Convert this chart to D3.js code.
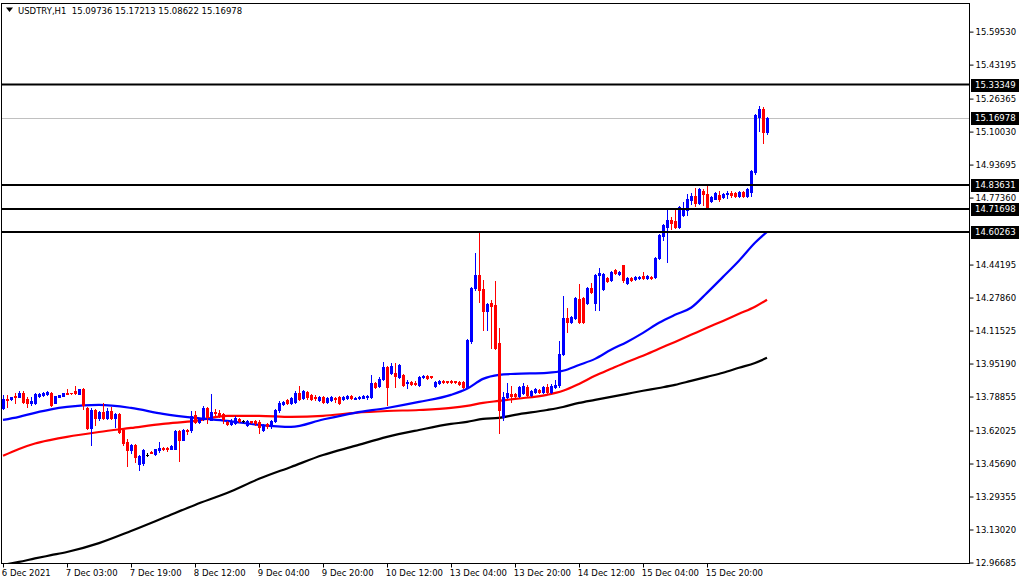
<!DOCTYPE html>
<html><head><meta charset="utf-8">
<script src="https://cdn.jsdelivr.net/npm/d3@7"></script>
<style>
html,body{margin:0;padding:0;background:#fff;}
svg{display:block;}
text{font-family:"DejaVu Sans",sans-serif;}
</style></head><body>
<svg id="c" width="1020" height="584"></svg>
<script>
const titleText = "USDTRY,H1  15.09736 15.17213 15.08622 15.16978";
const opens = [13.732,13.777,13.777,13.792,13.787,13.807,13.777,13.757,13.757,13.792,
13.797,13.802,13.807,13.757,13.787,13.792,13.807,13.807,13.817,13.802,
13.827,13.732,13.633,13.722,13.683,13.713,13.683,13.717,13.683,13.703,
13.623,13.564,13.524,13.549,13.455,13.460,13.499,13.514,13.504,13.524,
13.534,13.534,13.529,13.529,13.618,13.574,13.623,13.623,13.698,13.663,
13.678,13.732,13.673,13.713,13.708,13.703,13.663,13.653,13.658,13.678,
13.668,13.648,13.668,13.668,13.663,13.623,13.653,13.643,13.668,13.722,
13.752,13.772,13.757,13.762,13.807,13.782,13.812,13.797,13.787,13.772,
13.787,13.762,13.772,13.782,13.787,13.777,13.782,13.792,13.777,13.782,
13.782,13.787,13.787,13.856,13.841,13.876,13.936,13.906,13.906,13.886,
13.896,13.856,13.861,13.856,13.846,13.886,13.891,13.891,13.841,13.856,
13.866,13.866,13.866,13.866,13.861,13.861,13.836,14.064,14.327,14.391,
14.322,14.213,14.253,14.243,14.054,13.688,13.787,13.802,13.802,13.792,
13.807,13.836,13.797,13.812,13.822,13.812,13.836,13.812,13.836,13.846,
14.000,14.178,14.159,14.178,14.272,14.277,14.253,14.327,14.253,14.391,
14.322,14.377,14.367,14.416,14.396,14.441,14.352,14.377,14.372,14.377,
14.386,14.377,14.381,14.381,14.476,14.585,14.629,14.664,14.659,14.629,
14.689,14.713,14.763,14.783,14.748,14.807,14.793,14.758,14.768,14.788,
14.778,14.793,14.798,14.798,14.783,14.803,14.783,14.803,14.902,15.174,
15.214,15.09736];
const highs = [13.797,13.797,13.787,13.807,13.817,13.817,13.787,13.787,13.807,13.807,
13.812,13.817,13.812,13.792,13.797,13.807,13.827,13.807,13.841,13.827,
13.831,13.737,13.732,13.727,13.717,13.757,13.732,13.737,13.708,13.708,
13.633,13.579,13.554,13.554,13.499,13.529,13.509,13.519,13.529,13.564,
13.539,13.539,13.549,13.623,13.623,13.628,13.628,13.717,13.717,13.683,
13.742,13.737,13.802,13.727,13.722,13.708,13.668,13.678,13.693,13.683,
13.673,13.673,13.668,13.673,13.673,13.653,13.658,13.673,13.727,13.767,
13.767,13.777,13.787,13.817,13.841,13.822,13.817,13.802,13.797,13.792,
13.792,13.787,13.792,13.787,13.792,13.792,13.797,13.797,13.787,13.792,
13.797,13.797,13.896,13.861,13.886,13.960,13.940,13.955,13.955,13.950,
13.901,13.871,13.866,13.866,13.891,13.896,13.896,13.891,13.866,13.871,
13.871,13.866,13.871,13.866,13.866,13.866,14.074,14.332,14.500,14.604,
14.367,14.253,14.267,14.362,14.129,13.812,13.856,13.841,13.807,13.841,
13.856,13.846,13.822,13.831,13.827,13.841,13.851,13.851,13.871,14.064,
14.287,14.228,14.188,14.282,14.347,14.282,14.332,14.352,14.396,14.426,
14.401,14.381,14.411,14.421,14.411,14.441,14.381,14.381,14.386,14.386,
14.406,14.391,14.386,14.480,14.594,14.644,14.713,14.679,14.723,14.733,
14.753,14.793,14.798,14.822,14.822,14.817,14.832,14.783,14.803,14.807,
14.798,14.807,14.807,14.803,14.807,14.807,14.822,14.912,15.189,15.229,
15.224,15.17213];
const lows = [13.727,13.737,13.772,13.757,13.787,13.757,13.737,13.747,13.752,13.787,
13.792,13.797,13.742,13.757,13.787,13.792,13.802,13.802,13.802,13.802,
13.727,13.628,13.549,13.648,13.673,13.678,13.678,13.678,13.638,13.608,
13.549,13.445,13.509,13.465,13.425,13.450,13.495,13.509,13.499,13.514,
13.524,13.519,13.529,13.529,13.470,13.574,13.604,13.613,13.658,13.658,
13.673,13.658,13.673,13.698,13.688,13.658,13.648,13.648,13.653,13.663,
13.663,13.643,13.658,13.648,13.608,13.618,13.633,13.633,13.663,13.713,
13.747,13.752,13.752,13.757,13.772,13.777,13.777,13.772,13.772,13.767,
13.757,13.757,13.767,13.762,13.752,13.772,13.777,13.777,13.777,13.777,
13.782,13.777,13.782,13.831,13.836,13.871,13.747,13.901,13.836,13.881,
13.841,13.831,13.846,13.846,13.841,13.881,13.876,13.881,13.836,13.851,
13.856,13.856,13.856,13.856,13.846,13.831,13.831,14.054,14.317,14.258,
14.119,14.119,14.030,14.025,13.608,13.673,13.782,13.762,13.787,13.787,
13.802,13.792,13.792,13.807,13.807,13.807,13.807,13.807,13.831,13.836,
13.995,14.109,14.154,14.173,14.154,14.154,14.248,14.302,14.218,14.218,
14.317,14.357,14.362,14.396,14.391,14.357,14.347,14.362,14.367,14.372,
14.372,14.372,14.372,14.377,14.471,14.565,14.456,14.619,14.624,14.624,
14.684,14.689,14.743,14.733,14.743,14.738,14.723,14.753,14.768,14.758,
14.773,14.773,14.778,14.778,14.778,14.778,14.778,14.783,14.892,15.105,
15.045,15.08622];
const closes = [13.777,13.772,13.787,13.787,13.807,13.762,13.757,13.767,13.802,13.802,
13.807,13.812,13.747,13.792,13.797,13.807,13.802,13.804,13.807,13.827,
13.747,13.633,13.722,13.683,13.713,13.683,13.717,13.683,13.703,13.613,
13.559,13.524,13.549,13.490,13.495,13.524,13.499,13.509,13.529,13.534,
13.529,13.529,13.544,13.618,13.574,13.623,13.618,13.693,13.663,13.678,
13.732,13.688,13.713,13.708,13.698,13.678,13.653,13.668,13.683,13.668,
13.668,13.668,13.663,13.658,13.638,13.648,13.643,13.668,13.722,13.757,
13.762,13.757,13.782,13.807,13.777,13.817,13.787,13.777,13.782,13.787,
13.762,13.782,13.787,13.777,13.757,13.787,13.792,13.782,13.782,13.787,
13.792,13.792,13.856,13.836,13.876,13.936,13.836,13.940,13.891,13.945,
13.846,13.861,13.851,13.851,13.886,13.891,13.881,13.886,13.861,13.866,
13.861,13.861,13.861,13.861,13.851,13.836,14.069,14.327,14.391,14.317,
14.213,14.248,14.238,14.030,13.722,13.787,13.807,13.792,13.792,13.836,
13.841,13.797,13.817,13.827,13.812,13.836,13.812,13.841,13.846,14.000,
14.178,14.159,14.183,14.277,14.159,14.159,14.327,14.307,14.391,14.401,
14.396,14.362,14.406,14.401,14.406,14.367,14.377,14.367,14.381,14.381,
14.377,14.386,14.377,14.476,14.590,14.639,14.664,14.649,14.629,14.728,
14.723,14.768,14.783,14.748,14.817,14.793,14.728,14.778,14.798,14.768,
14.793,14.798,14.788,14.783,14.803,14.783,14.817,14.907,15.184,15.214,
15.100,15.16978];

const maIdx = [0,4,8,12,16,24,32,40,48,56,64,72,80,88,96,104,112,116,120,124,128,136,140,144,148,152,156,160,164,168,172,176,180,184,188,191];
const maBlue = [13.673,13.688,13.708,13.725,13.737,13.747,13.732,13.703,13.683,13.668,13.648,13.638,13.675,13.708,13.732,13.762,13.797,13.827,13.876,13.896,13.901,13.906,13.916,13.945,13.975,14.020,14.059,14.104,14.154,14.193,14.228,14.302,14.381,14.461,14.550,14.604];
const maRed = [13.495,13.529,13.556,13.574,13.589,13.613,13.633,13.653,13.668,13.693,13.693,13.688,13.693,13.708,13.717,13.722,13.732,13.742,13.757,13.767,13.777,13.797,13.817,13.851,13.891,13.926,13.960,13.990,14.025,14.059,14.094,14.129,14.163,14.198,14.233,14.268];
const maBlack = [12.955,12.970,12.987,13.003,13.019,13.063,13.123,13.187,13.252,13.311,13.381,13.440,13.499,13.544,13.589,13.623,13.653,13.663,13.678,13.683,13.698,13.722,13.737,13.757,13.772,13.787,13.802,13.817,13.831,13.846,13.866,13.886,13.906,13.931,13.955,13.980];

const timeTickIdx = [0,16,32,48,64,80,96,112,128,144,160,176];
const timeLabels = ["6 Dec 2021","7 Dec 03:00","7 Dec 19:00","8 Dec 12:00","9 Dec 04:00","9 Dec 20:00","10 Dec 12:00","13 Dec 04:00","13 Dec 20:00","14 Dec 12:00","15 Dec 04:00","15 Dec 20:00"];
const priceTicks = [15.59530,15.43195,15.26365,15.10030,14.93695,14.77360,14.44195,14.27860,14.11525,13.95190,13.78855,13.62025,13.45690,13.29355,13.13020,12.96685];
const levels = [15.33349,14.83631,14.71698,14.60263];
const lastPrice = 15.16978;

const plotL = 1, plotR = 969, plotT = 3, plotB = 563;
const svg = d3.select("#c");

const x = d3.scaleLinear().domain([0, 191]).range([3, 767]);
const y = d3.scaleLinear().domain([12.96685, 15.33349]).range([562.5, 84.5]);

svg.append("defs").append("clipPath").attr("id","pc")
  .append("rect").attr("x",plotL).attr("y",plotT).attr("width",plotR-plotL).attr("height",plotB-plotT);

const g = svg.append("g").attr("clip-path","url(#pc)");

// current price line
g.append("line").attr("x1",plotL).attr("x2",plotR)
  .attr("y1",Math.round(y(lastPrice))+0.5).attr("y2",Math.round(y(lastPrice))+0.5)
  .attr("stroke","#c0c0c0").attr("stroke-width",1);

// MA lines
const maLine = vals => d3.line().curve(d3.curveMonotoneX).x((d,k)=>x(maIdx[k])).y(d=>y(d))(vals);
[[maBlack,"#000000"],[maRed,"#ff0000"],[maBlue,"#0000ff"]].forEach(([v,c])=>{
  g.append("path").attr("d",maLine(v)).attr("fill","none").attr("stroke",c).attr("stroke-width",2.2);
});

// candles
const idx = d3.range(opens.length);
const cg = g.append("g").attr("shape-rendering","crispEdges");
idx.forEach(i=>{
  const o=opens[i], c=closes[i], h=highs[i], l=lows[i];
  const col = Math.abs(o-c) < 1e-6 ? "#000000" : (c > o ? "#0000ff" : "#ff0000");
  const cx = Math.round(x(i));
  const yh = Math.round(y(h)), yl = Math.round(y(l));
  cg.append("rect").attr("x",cx).attr("y",yh).attr("width",1).attr("height",Math.max(1,yl-yh+1)).attr("fill",col);
  const yt = Math.round(y(Math.max(o,c))), yb = Math.round(y(Math.min(o,c)));
  cg.append("rect").attr("x",cx-1).attr("y",yt).attr("width",3).attr("height",Math.max(1,yb-yt+1)).attr("fill",col);
});

// level lines
levels.forEach(v=>{
  g.append("line").attr("x1",plotL).attr("x2",plotR)
    .attr("y1",y(v)).attr("y2",y(v)).attr("stroke","#000").attr("stroke-width",2);
});

// frame
svg.append("rect").attr("x",plotL+0.5).attr("y",plotT+0.5).attr("width",plotR-plotL).attr("height",plotB-plotT)
  .attr("fill","none").attr("stroke","#000").attr("stroke-width",1).attr("shape-rendering","crispEdges");

// right axis
const yAxis = d3.axisRight(y).tickValues(priceTicks).tickFormat(d3.format(".5f")).tickSize(4).tickPadding(2);
const ya = svg.append("g").attr("transform",`translate(${plotR+0.5},0)`).call(yAxis);
ya.select(".domain").remove();
ya.selectAll("text").attr("font-size","8.5px").attr("fill","#000").attr("font-family","DejaVu Sans");
ya.selectAll("line").attr("stroke","#000");

// highlighted level labels
[...levels, lastPrice].forEach(v=>{
  const yy = Math.round(y(v));
  svg.append("rect").attr("x",plotR+2).attr("y",yy-6).attr("width",48).attr("height",13).attr("fill","#000");
  svg.append("text").attr("x",plotR+6).attr("y",yy).attr("dy","0.35em")
    .attr("font-size","8.5px").attr("fill","#fff").text(d3.format(".5f")(v));
});

// bottom axis
const xAxis = d3.axisBottom(x).tickValues(timeTickIdx).tickFormat((d,k)=>timeLabels[k]).tickSize(4).tickPadding(2);
const xa = svg.append("g").attr("transform",`translate(0,${plotB+0.5})`).call(xAxis);
xa.select(".domain").remove();
xa.selectAll("text").attr("text-anchor","start").attr("dx","-0.2em").attr("font-size","8.5px").attr("fill","#000");
xa.selectAll("line").attr("stroke","#000");

// title
svg.append("path").attr("d","M6,7.5 L13,7.5 L9.5,12 Z").attr("fill","#000");
svg.append("text").attr("x",18).attr("y",14).attr("font-size","8.5px").attr("fill","#000")
  .style("white-space","pre").text(titleText);
</script>
</body></html>
